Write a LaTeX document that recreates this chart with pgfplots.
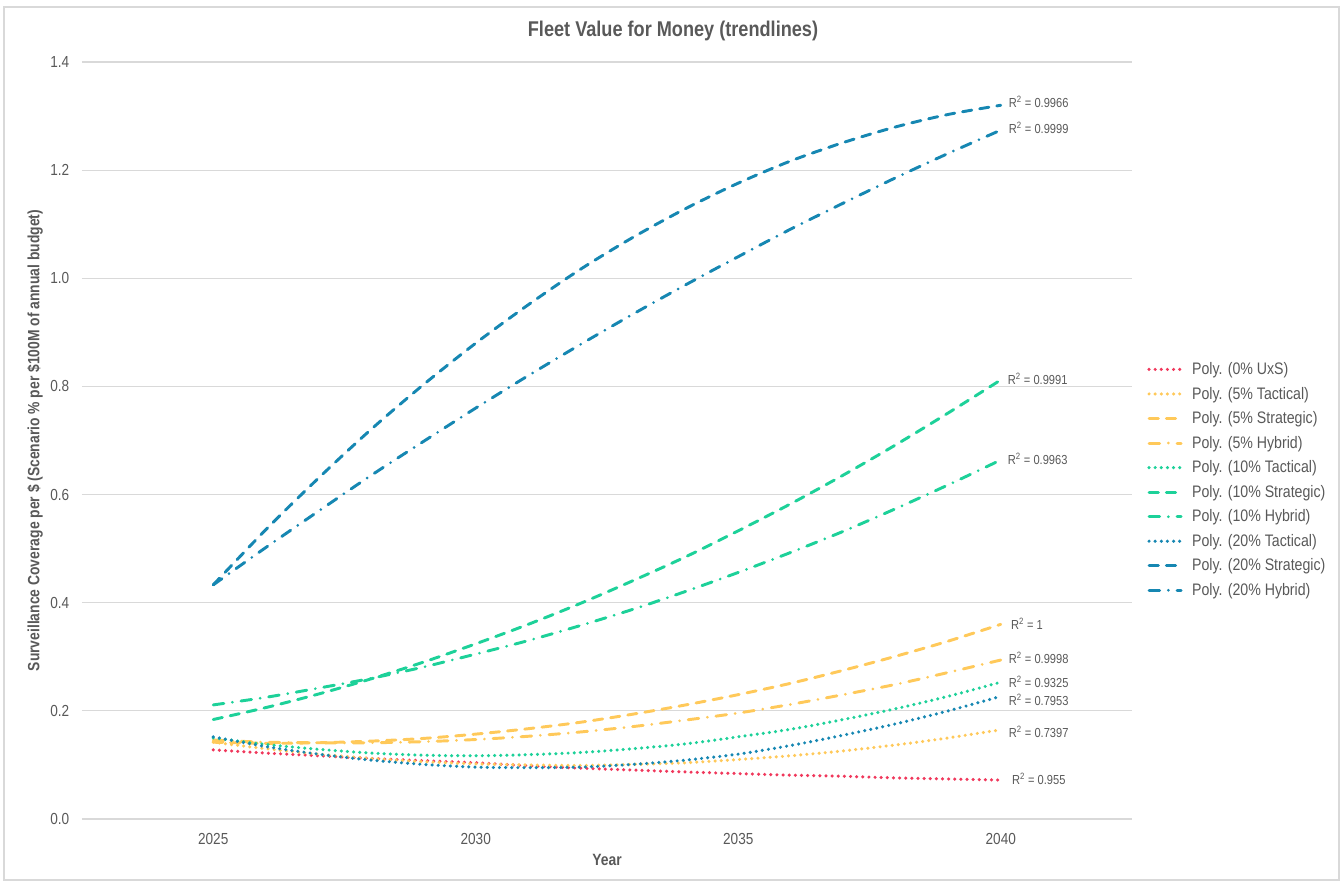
\documentclass[border=0pt]{standalone}
\usepackage{fontspec}
\setmainfont{Liberation Sans}[FakeStretch=0.85]
\usepackage{pgfplots}
\usepackage{pgfplotstable}
\pgfplotsset{compat=1.18}
\definecolor{cred}{HTML}{F0385C}
\definecolor{cyel}{HTML}{FFC95A}
\definecolor{cgrn}{HTML}{1DD199}
\definecolor{cblu}{HTML}{1687B2}
\definecolor{txt}{HTML}{595959}
\definecolor{grd}{HTML}{D9D9D9}
\pgfplotstableread{
year uxs t5 s5 h5 t10 s10 h10 t20 s20 h20
2025 0.128 0.142 0.142 0.146 0.150 0.184 0.211 0.152 0.433 0.433
2026 0.122 0.130 0.140 0.142 0.138 0.206 0.225 0.134 0.535 0.502
2027 0.117 0.120 0.141 0.141 0.129 0.231 0.242 0.120 0.630 0.569
2028 0.112 0.112 0.144 0.141 0.122 0.259 0.260 0.109 0.720 0.635
2029 0.108 0.106 0.149 0.143 0.118 0.290 0.281 0.101 0.803 0.698
2030 0.104 0.102 0.157 0.147 0.117 0.324 0.305 0.096 0.880 0.760
2031 0.0985 0.100 0.167 0.153 0.119 0.360 0.330 0.095 0.951 0.820
2032 0.094 0.099 0.179 0.161 0.123 0.399 0.358 0.096 1.017 0.878
2033 0.0905 0.101 0.194 0.171 0.130 0.441 0.388 0.101 1.076 0.934
2034 0.087 0.104 0.211 0.183 0.139 0.485 0.421 0.109 1.129 0.988
2035 0.084 0.110 0.230 0.196 0.152 0.533 0.456 0.120 1.176 1.040
2036 0.081 0.117 0.251 0.212 0.166 0.583 0.493 0.136 1.217 1.091
2037 0.079 0.126 0.275 0.230 0.184 0.636 0.532 0.155 1.251 1.139
2038 0.076 0.137 0.301 0.249 0.204 0.692 0.574 0.176 1.280 1.186
2039 0.074 0.150 0.329 0.271 0.227 0.751 0.618 0.200 1.303 1.231
2040 0.072 0.165 0.360 0.294 0.253 0.812 0.664 0.227 1.320 1.274
}\data
\tikzset{
  dotl/.style={line width=2.6pt, line cap=round, dash pattern=on 0pt off 4.6pt},
  dashl/.style={line width=2.2pt, line cap=round, dash pattern=on 7pt off 6pt},
  dashdotl/.style={line width=2.2pt, line cap=round, dash pattern=on 8pt off 6.5pt on 0pt off 6.5pt},
}
\begin{document}
\begin{tikzpicture}
\path[use as bounding box] (-61.5pt,-48pt) rectangle (945.75pt,614.25pt);
\draw[grd, line width=0.8pt] (-58.5pt,-45.75pt) rectangle (942.75pt,609pt);
\begin{axis}[
  scale only axis,
  width=787.5pt, height=567.75pt,
  xmin=2022.5, xmax=2042.5, ymin=0, ymax=1.4,
  xtick={2025,2030,2035,2040},
  ytick={0,0.2,0.4,0.6,0.8,1.0,1.2,1.4},
  axis line style={draw=none},
  major tick length=0pt,
  ymajorgrids,
  major grid style={draw=grd, line width=0.8pt},
  /pgf/number format/assume math mode=true,
  x tick label style={/pgf/number format/1000 sep={}, font=\fontsize{12}{14}\selectfont, text=txt, anchor=north, yshift=-7pt},
  y tick label style={/pgf/number format/.cd, fixed, fixed zerofill, precision=1, /tikz/.cd, font=\fontsize{12}{14}\selectfont, text=txt, anchor=east, xshift=-6pt},
  xlabel={\textbf{Year}},
  ylabel={\textbf{Surveillance Coverage per \$ (Scenario \% per \$100M of annual budget)}},
  xlabel style={at={(axis description cs:0.5,-0.054)}, anchor=center, font=\fontsize{12.25}{14}\selectfont, text=txt},
  ylabel style={at={(axis description cs:-0.0448,0.5)}, anchor=center, font=\fontsize{12.25}{14}\selectfont, text=txt},
  legend style={at={(axis description cs:1.0105,0.448)}, anchor=west, draw=none, fill=none,
    font=\fontsize{12.5}{14}\selectfont, text=txt, row sep=3.85pt, legend cell align=left,
    /tikz/every odd column/.append style={column sep=5pt}},
  legend image code/.code={\draw[#1] (0pt,0pt) -- (24pt,0pt);},
  every axis plot/.append style={smooth, tension=0.5},
  clip=false,
]
\addplot[cred, dotl] table[x=year, y=uxs] {\data}; \addlegendentry{Poly. (0\% UxS)}
\addplot[cyel, dotl] table[x=year, y=t5] {\data}; \addlegendentry{Poly. (5\% Tactical)}
\addplot[cyel, dashl] table[x=year, y=s5] {\data}; \addlegendentry{Poly. (5\% Strategic)}
\addplot[cyel, dashdotl] table[x=year, y=h5] {\data}; \addlegendentry{Poly. (5\% Hybrid)}
\addplot[cgrn, dotl] table[x=year, y=t10] {\data}; \addlegendentry{Poly. (10\% Tactical)}
\addplot[cgrn, dashl] table[x=year, y=s10] {\data}; \addlegendentry{Poly. (10\% Strategic)}
\addplot[cgrn, dashdotl] table[x=year, y=h10] {\data}; \addlegendentry{Poly. (10\% Hybrid)}
\addplot[cblu, dotl] table[x=year, y=t20] {\data}; \addlegendentry{Poly. (20\% Tactical)}
\addplot[cblu, dashl] table[x=year, y=s20] {\data}; \addlegendentry{Poly. (20\% Strategic)}
\addplot[cblu, dashdotl] table[x=year, y=h20] {\data}; \addlegendentry{Poly. (20\% Hybrid)}
\begin{scope}[every node/.style={anchor=west, text=txt, font=\fontsize{9.8}{11}\selectfont, inner sep=0pt}]
\node at (axis cs:2040.15,1.326) {R\textsuperscript{2} = 0.9966};
\node at (axis cs:2040.15,1.278) {R\textsuperscript{2} = 0.9999};
\node at (axis cs:2040.13,0.814) {R\textsuperscript{2} = 0.9991};
\node at (axis cs:2040.13,0.666) {R\textsuperscript{2} = 0.9963};
\node at (axis cs:2040.19,0.361) {R\textsuperscript{2} = 1};
\node at (axis cs:2040.15,0.298) {R\textsuperscript{2} = 0.9998};
\node at (axis cs:2040.15,0.253) {R\textsuperscript{2} = 0.9325};
\node at (axis cs:2040.15,0.220) {R\textsuperscript{2} = 0.7953};
\node at (axis cs:2040.15,0.161) {R\textsuperscript{2} = 0.7397};
\node at (axis cs:2040.21,0.074) {R\textsuperscript{2} = 0.955};
\end{scope}
\end{axis}
\node[text=txt, font=\bfseries\fontsize{16}{18}\selectfont] at (443.25pt,591pt) {Fleet Value for Money (trendlines)};
\end{tikzpicture}
\end{document}
